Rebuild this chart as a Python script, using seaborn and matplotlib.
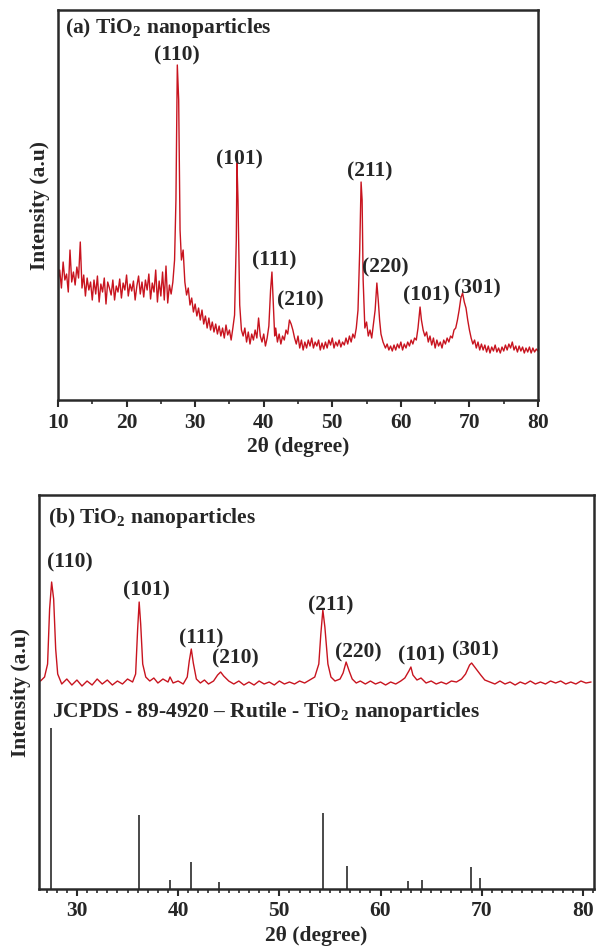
import matplotlib
matplotlib.use("Agg")
import matplotlib.pyplot as plt
import seaborn as sns
from matplotlib.ticker import MultipleLocator, NullLocator

# ---------------- data: panel (a) observed XRD pattern ----------------
two_theta_a = [
    10.0, 10.25, 10.5, 10.75, 11.0, 11.25, 11.5, 11.75,
    12.0, 12.25, 12.5, 12.75, 13.0, 13.25, 13.5, 13.75,
    14.0, 14.25, 14.5, 14.75, 15.0, 15.25, 15.5, 15.75,
    16.0, 16.25, 16.5, 16.75, 17.0, 17.25, 17.5, 17.75,
    18.0, 18.25, 18.5, 18.75, 19.0, 19.25, 19.5, 19.75,
    20.0, 20.25, 20.5, 20.75, 21.0, 21.25, 21.5, 21.75,
    22.0, 22.25, 22.5, 22.75, 23.0, 23.25, 23.5, 23.75,
    24.0, 24.25, 24.5, 24.75, 25.0, 25.25, 25.5, 25.75,
    26.0, 26.25, 26.5, 26.75, 27.0, 27.2, 27.4, 27.6,
    27.8, 28.0, 28.25, 28.5, 28.75, 29.0, 29.25, 29.5,
    29.75, 30.0, 30.25, 30.5, 30.75, 31.0, 31.25, 31.5,
    31.75, 32.0, 32.25, 32.5, 32.75, 33.0, 33.25, 33.5,
    33.75, 34.0, 34.25, 34.5, 34.75, 35.0, 35.25, 35.5,
    35.75, 36.0, 36.1, 36.25, 36.5, 36.75, 37.0, 37.25,
    37.5, 37.75, 38.0, 38.25, 38.5, 38.75, 39.0, 39.25,
    39.5, 39.75, 40.0, 40.25, 40.5, 40.75, 41.0, 41.2,
    41.4, 41.6, 41.75, 42.0, 42.25, 42.5, 42.75, 43.0,
    43.25, 43.5, 43.75, 44.0, 44.25, 44.5, 44.75, 45.0,
    45.25, 45.5, 45.75, 46.0, 46.25, 46.5, 46.75, 47.0,
    47.25, 47.5, 47.75, 48.0, 48.25, 48.5, 48.75, 49.0,
    49.25, 49.5, 49.75, 50.0, 50.25, 50.5, 50.75, 51.0,
    51.25, 51.5, 51.75, 52.0, 52.25, 52.5, 52.75, 53.0,
    53.25, 53.5, 53.75, 54.0, 54.2, 54.35, 54.5, 54.75,
    55.0, 55.25, 55.5, 55.75, 56.0, 56.25, 56.5, 56.7,
    56.9, 57.1, 57.4, 57.75, 58.0, 58.25, 58.5, 58.75,
    59.0, 59.25, 59.5, 59.75, 60.0, 60.25, 60.5, 60.75,
    61.0, 61.25, 61.5, 61.75, 62.0, 62.25, 62.5, 62.8,
    63.0, 63.25, 63.5, 63.75, 64.0, 64.25, 64.5, 64.75,
    65.0, 65.25, 65.5, 65.75, 66.0, 66.25, 66.5, 66.75,
    67.0, 67.25, 67.5, 67.75, 68.0, 68.25, 68.5, 68.75,
    69.0, 69.25, 69.5, 69.75, 70.0, 70.25, 70.5, 70.75,
    71.0, 71.25, 71.5, 71.75, 72.0, 72.25, 72.5, 72.75,
    73.0, 73.25, 73.5, 73.75, 74.0, 74.25, 74.5, 74.75,
    75.0, 75.25, 75.5, 75.75, 76.0, 76.25, 76.5, 76.75,
    77.0, 77.25, 77.5, 77.75, 78.0, 78.25, 78.5, 78.75,
    79.0, 79.25, 79.5, 79.75, 80.0,
]
intensity_a = [
    118, 130, 112, 138, 120, 126, 108, 150,
    118, 128, 115, 133, 122, 158, 112, 125,
    104, 122, 110, 118, 100, 120, 106, 124,
    98, 116, 108, 122, 96, 118, 112, 105,
    120, 100, 114, 108, 121, 102, 117, 110,
    125, 104, 116, 109, 119, 100, 114, 124,
    106, 118, 103, 120, 110, 126, 101, 117,
    108, 130, 98, 119, 104, 128, 100, 134,
    97, 115, 106, 118, 140, 200, 335, 300,
    170, 140, 150, 118, 105, 112, 95, 102,
    88, 96, 84, 92, 80, 90, 76, 84,
    72, 82, 70, 78, 68, 76, 66, 74,
    64, 72, 62, 75, 65, 70, 60, 72,
    85, 160, 237, 200, 95, 70, 64, 72,
    58, 68, 56, 66, 60, 70, 62, 82,
    64, 58, 66, 54, 62, 74, 110, 128,
    95, 64, 72, 58, 66, 56, 64, 60,
    70, 66, 80, 76, 70, 62, 56, 64,
    52, 60, 50, 58, 52, 60, 54, 62,
    52, 58, 54, 60, 50, 57, 51, 58,
    52, 60, 55, 62, 52, 58, 54, 60,
    53, 58, 55, 62, 56, 64, 58, 66,
    62, 72, 90, 150, 218, 200, 120, 72,
    78, 64, 70, 62, 76, 90, 117, 100,
    80, 66, 58, 52, 56, 50, 54, 49,
    55, 50, 56, 52, 58, 50, 56, 52,
    58, 54, 60, 56, 62, 60, 72, 93,
    80, 70, 64, 68, 58, 64, 55, 62,
    52, 60, 54, 58, 52, 60, 56, 62,
    58, 64, 62, 70, 72, 80, 90, 102,
    107, 98, 92, 80, 70, 62, 56, 60,
    52, 58, 50, 56, 50, 55, 48, 54,
    47, 53, 49, 55, 48, 52, 47, 53,
    49, 55, 50, 56, 52, 58, 50, 54,
    48, 54, 49, 53, 47, 52, 48, 53,
    47, 52, 48, 51, 49,
]

# ---------------- data: panel (b) observed pattern ----------------
two_theta_b = [
    26.4, 26.8, 27.1, 27.3, 27.5, 27.7, 27.9, 28.1,
    28.5, 29.0, 29.5, 30.0, 30.5, 31.0, 31.5, 32.0,
    32.5, 33.0, 33.5, 34.0, 34.5, 35.0, 35.5, 35.8,
    36.0, 36.15, 36.3, 36.5, 36.8, 37.2, 37.6, 38.0,
    38.5, 39.0, 39.2, 39.5, 40.0, 40.5, 40.9, 41.1,
    41.3, 41.5, 41.8, 42.2, 42.6, 43.0, 43.5, 43.9,
    44.2, 44.5, 45.0, 45.5, 46.0, 46.5, 47.0, 47.5,
    48.0, 48.5, 49.0, 49.5, 50.0, 50.5, 51.0, 51.5,
    52.0, 52.5, 53.0, 53.5, 53.9, 54.1, 54.3, 54.5,
    54.8, 55.1, 55.5, 56.0, 56.3, 56.6, 56.9, 57.2,
    57.6, 58.0, 58.5, 59.0, 59.5, 60.0, 60.5, 61.0,
    61.5, 62.0, 62.4, 62.8, 63.0, 63.2, 63.6, 64.0,
    64.5, 65.0, 65.5, 66.0, 66.5, 67.0, 67.5, 68.0,
    68.4, 68.8, 69.0, 69.3, 69.6, 69.9, 70.3, 70.8,
    71.3, 71.8, 72.3, 72.8, 73.3, 73.8, 74.3, 74.8,
    75.3, 75.8, 76.3, 76.8, 77.3, 77.8, 78.3, 78.8,
    79.3, 79.8, 80.3, 80.8,
]
intensity_b = [
    208, 212, 225, 280, 307, 290, 240, 215,
    205, 210, 204, 209, 203, 208, 204, 210,
    205, 209, 204, 208, 205, 210, 207, 215,
    260, 287, 265, 225, 212, 208, 211, 206,
    210, 207, 212, 206, 208, 205, 212, 228,
    240, 226, 210, 206, 209, 205, 208, 214,
    217, 213, 208, 205, 208, 204, 207, 204,
    208, 205, 207, 204, 208, 205, 207, 205,
    208, 206, 209, 212, 225, 255, 279, 262,
    225, 212, 208, 210, 216, 227, 218, 210,
    206, 208, 205, 208, 205, 207, 204, 207,
    205, 208, 211, 218, 222, 214, 209, 211,
    206, 208, 205, 207, 205, 208, 207, 210,
    215, 224, 226, 222, 218, 214, 209, 207,
    205, 208, 205, 207, 204, 207, 205, 208,
    205, 207, 205, 208, 206, 208, 205, 207,
    205, 208, 206, 207,
]

# ---------------- data: JCPDS 89-4920 reference lines ----------------
ref_positions = [27.45, 36.1, 39.2, 41.25, 44.05, 54.3, 56.65, 62.75, 64.05, 68.95, 69.8]
ref_intensity = [161, 74, 9, 27, 7, 76, 23, 8, 9, 22, 11]

# ---------------- annotations ----------------
peak_labels = ["(110)", "(101)", "(111)", "(210)", "(211)", "(220)", "(101)", "(301)"]
title_a = "(a) TiO$_2$ nanoparticles"
title_b = "(b) TiO$_2$ nanoparticles"
jcpds_text = "JCPDS - 89-4920 \u2013 Rutile - TiO$_2$ nanoparticles"
x_label = "2\u03b8 (degree)"
y_label = "Intensity (a.u)"

# ---------------- style ----------------
sns.set_style("ticks")
FONT = "Liberation Serif"
plt.rcParams["font.family"] = [FONT, "DejaVu Serif"]
plt.rcParams["font.weight"] = "bold"
plt.rcParams["mathtext.fontset"] = "custom"
plt.rcParams["mathtext.rm"] = "Liberation Serif:bold"
plt.rcParams["mathtext.bf"] = "Liberation Serif:bold"
plt.rcParams["mathtext.it"] = "Liberation Serif:bold"
plt.rcParams["mathtext.default"] = "bf"

RED = "#c8141f"
SPINE = "#2a2a2a"
FS = 15.5

fig = plt.figure(figsize=(5.96, 9.52), dpi=100)
ax_a = fig.add_axes([0.0973, 0.5798, 0.8054, 0.4097])
ax_b = fig.add_axes([0.0654, 0.0662, 0.9312, 0.4138])

# panel (a)
sns.lineplot(x=two_theta_a, y=intensity_a, ax=ax_a, color=RED, lw=1.0,
             estimator=None, sort=False)
ax_a.set_xlim(10, 80)
ax_a.set_ylim(0, 390)
ax_a.xaxis.set_major_locator(MultipleLocator(10))
ax_a.xaxis.set_minor_locator(MultipleLocator(5))

label_pos_a = [(27.35, 345), (36.5, 241), (41.5, 140), (45.4, 100),
               (55.5, 229), (57.7, 133), (63.7, 105), (71.2, 112)]
for lab, (lx, ly) in zip(peak_labels, label_pos_a):
    ax_a.text(lx, ly, lab, ha="center", va="center", fontsize=FS, fontweight="bold")
ax_a.text(11.0, 372, title_a, ha="left", va="center", fontsize=FS, fontweight="bold")

# panel (b)
sns.lineplot(x=two_theta_b, y=intensity_b, ax=ax_b, color=RED, lw=1.0,
             estimator=None, sort=False)
ax_b.vlines(ref_positions, 0, ref_intensity, colors="#3a3a3a", lw=1.3)
ax_b.set_xlim(26.25, 81.09)
ax_b.set_ylim(0, 394)
ax_b.xaxis.set_major_locator(MultipleLocator(10))
ax_b.xaxis.set_minor_locator(MultipleLocator(1))

label_pos_b = [(29.3, 327), (36.9, 299), (42.25, 251), (45.7, 231),
               (55.1, 284), (57.8, 237), (64.0, 234), (69.4, 239)]
for lab, (lx, ly) in zip(peak_labels, label_pos_b):
    ax_b.text(lx, ly, lab, ha="center", va="center", fontsize=FS, fontweight="bold")
ax_b.text(27.1, 371, title_b, ha="left", va="center", fontsize=FS, fontweight="bold")
ax_b.text(27.5, 177, jcpds_text, ha="left", va="center", fontsize=FS, fontweight="bold")

for ax in (ax_a, ax_b):
    ax.yaxis.set_major_locator(NullLocator())
    ax.yaxis.set_minor_locator(NullLocator())
    for s in ax.spines.values():
        s.set_color(SPINE)
        s.set_linewidth(1.8)
        s.set_visible(True)
    ax.tick_params(axis="x", which="major", direction="out", length=5, width=1.5,
                   color=SPINE, labelsize=FS, pad=4)
    ax.tick_params(axis="x", which="minor", direction="out", length=3, width=1.2,
                   color=SPINE)
    for t in ax.get_xticklabels():
        t.set_fontweight("bold")
    ax.set_xlabel(x_label, fontsize=FS, fontweight="bold", labelpad=3)
    ax.set_ylabel(y_label, fontsize=FS, fontweight="bold", labelpad=6)

fig.savefig("out.png", dpi=100)
